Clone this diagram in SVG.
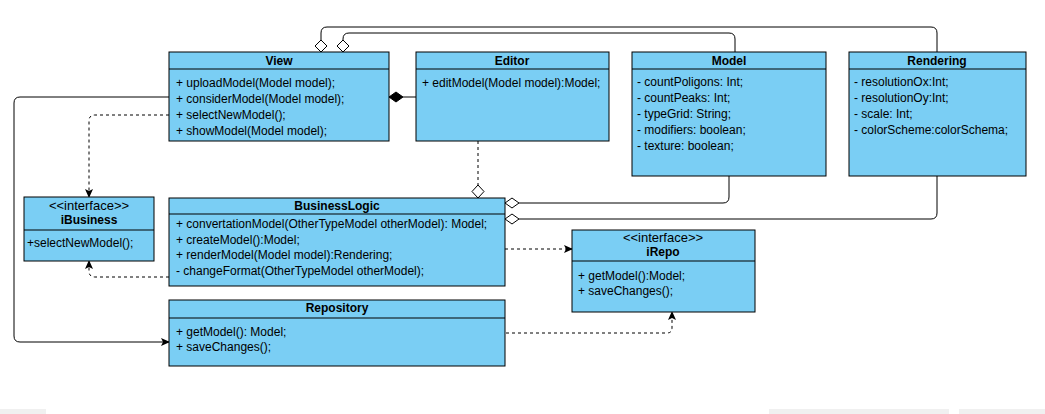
<svg xmlns="http://www.w3.org/2000/svg" width="1045" height="414" viewBox="0 0 1045 414">
<defs>
<marker id="arr" markerWidth="9" markerHeight="8" refX="8" refY="4" orient="auto" markerUnits="userSpaceOnUse">
<path d="M0,0 L9,4 L0,8 L2,4 Z" fill="#000"/>
</marker>
</defs>
<style>
.box{fill:#7ACEF4;stroke:#000;stroke-width:1}
.div{stroke:#000;stroke-width:1}
.t{font-family:"Liberation Sans",Arial,sans-serif;font-size:12px;fill:#000}
.h{font-family:"Liberation Sans",Arial,sans-serif;font-size:12px;font-weight:bold;fill:#000;text-anchor:middle}
.s{font-family:"Liberation Sans",Arial,sans-serif;font-size:13px;fill:#000;text-anchor:middle}
.c{fill:none;stroke:#000;stroke-width:1}
.d{fill:none;stroke:#000;stroke-width:1;stroke-dasharray:3,3}
.od{fill:#fff;stroke:#000;stroke-width:1}
.fd{fill:#000;stroke:#000;stroke-width:1}
</style>
<rect x="0" y="0" width="1045" height="414" fill="#fff"/>
<rect x="0" y="409" width="46" height="5" fill="#f0f0f0"/>
<rect x="769" y="409" width="180" height="5" fill="#f0f0f0"/>
<rect x="959" y="409" width="86" height="5" fill="#f0f0f0"/>

<g id="connectors">
<path class="c" d="M937,52 V33 Q937,27 931,27 H327 Q321,27 321,33 V40"/>
<polygon class="od" points="321,52 327,46 321,40 315,46"/>
<path class="c" d="M735,52 V39 Q735,33 729,33 H349 Q343,33 343,39 V40"/>
<polygon class="od" points="343,52 349,46 343,40 337,46"/>
<path class="c" d="M403,97 H416"/>
<polygon class="fd" points="389,97 396,92 403,97 396,102"/>
<path class="d" d="M478,141 V185"/>
<polygon class="od" points="478,198 484,191.5 478,185 472,191.5"/>
<path class="c" d="M729,176 V197 Q729,203 723,203 H519"/>
<polygon class="od" points="505,203 512,198 519,203 512,208"/>
<path class="c" d="M937,176 V213 Q937,219 931,219 H519"/>
<polygon class="od" points="505,219 512,214 519,219 512,224"/>
<path class="d" d="M169,115 H95 Q89,115 89,121 V197" marker-end="url(#arr)"/>
<path class="d" d="M169,277 H95 Q89,277 89,271 V261" marker-end="url(#arr)"/>
<path class="c" d="M169,97 H20 Q14,97 14,103 V336 Q14,342 20,342 H169" marker-end="url(#arr)"/>
<path class="d" d="M505,249 H572" marker-end="url(#arr)"/>
<path class="d" d="M506,333 H667 Q672,333 672,328 V312" marker-end="url(#arr)"/>
</g>

<g id="View">
<rect class="box" x="169" y="52" width="220" height="89"/>
<line class="div" x1="169" y1="69" x2="389" y2="69"/>
<text class="h" x="279" y="65">View</text>
<text class="t" x="176" y="87">+ uploadModel(Model model);</text>
<text class="t" x="176" y="103">+ considerModel(Model model);</text>
<text class="t" x="176" y="119">+ selectNewModel();</text>
<text class="t" x="176" y="135">+ showModel(Model model);</text>
</g>

<g id="Editor">
<rect class="box" x="416" y="52" width="193" height="89"/>
<line class="div" x1="416" y1="69" x2="609" y2="69"/>
<text class="h" x="512" y="65">Editor</text>
<text class="t" x="422" y="87">+ editModel(Model model):Model;</text>
</g>

<g id="Model">
<rect class="box" x="632" y="52" width="194" height="124"/>
<line class="div" x1="632" y1="69" x2="826" y2="69"/>
<text class="h" x="729" y="65">Model</text>
<text class="t" x="637" y="86">- countPoligons: Int;</text>
<text class="t" x="637" y="102">- countPeaks: Int;</text>
<text class="t" x="637" y="118">- typeGrid: String;</text>
<text class="t" x="637" y="134">- modifiers: boolean;</text>
<text class="t" x="637" y="150">- texture: boolean;</text>
</g>

<g id="Rendering">
<rect class="box" x="849" y="52" width="177" height="124"/>
<line class="div" x1="849" y1="69" x2="1026" y2="69"/>
<text class="h" x="937" y="65">Rendering</text>
<text class="t" x="854" y="86">- resolutionOx:Int;</text>
<text class="t" x="854" y="102">- resolutionOy:Int;</text>
<text class="t" x="854" y="118">- scale: Int;</text>
<text class="t" x="854" y="134">- colorScheme:colorSchema;</text>
</g>

<g id="iBusiness">
<rect class="box" x="24" y="197" width="130" height="64"/>
<line class="div" x1="24" y1="230" x2="154" y2="230"/>
<text class="s" x="89" y="210">&lt;&lt;interface&gt;&gt;</text>
<text class="h" x="89" y="224">iBusiness</text>
<text class="t" x="27" y="247">+selectNewModel();</text>
</g>

<g id="BusinessLogic">
<rect class="box" x="169" y="198" width="336" height="88"/>
<line class="div" x1="169" y1="214" x2="505" y2="214"/>
<text class="h" x="337" y="210">BusinessLogic</text>
<text class="t" x="176" y="228">+ convertationModel(OtherTypeModel otherModel): Model;</text>
<text class="t" x="176" y="244">+ createModel():Model;</text>
<text class="t" x="176" y="259">+ renderModel(Model model):Rendering;</text>
<text class="t" x="176" y="275">- changeFormat(OtherTypeModel otherModel);</text>
</g>

<g id="iRepo">
<rect class="box" x="572" y="230" width="183" height="82"/>
<line class="div" x1="572" y1="261" x2="755" y2="261"/>
<text class="s" x="663" y="242">&lt;&lt;interface&gt;&gt;</text>
<text class="h" x="663" y="256">iRepo</text>
<text class="t" x="578" y="280">+ getModel():Model;</text>
<text class="t" x="578" y="295">+ saveChanges();</text>
</g>

<g id="Repository">
<rect class="box" x="169" y="300" width="336" height="66"/>
<line class="div" x1="169" y1="318" x2="505" y2="318"/>
<text class="h" x="337" y="312">Repository</text>
<text class="t" x="176" y="336">+ getModel(): Model;</text>
<text class="t" x="176" y="351">+ saveChanges();</text>
</g>
</svg>
